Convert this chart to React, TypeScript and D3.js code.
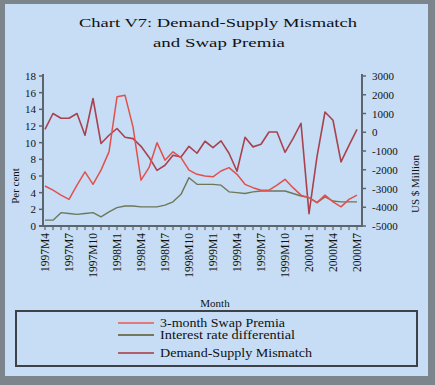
import React from 'react'
import * as d3 from 'd3'

// monthly categories, 1997M4 .. 2000M7
const months = [
  '1997M4', '1997M5', '1997M6', '1997M7', '1997M8', '1997M9', '1997M10', '1997M11', '1997M12',
  '1998M1', '1998M2', '1998M3', '1998M4', '1998M5', '1998M6', '1998M7', '1998M8', '1998M9',
  '1998M10', '1998M11', '1998M12', '1999M1', '1999M2', '1999M3', '1999M4', '1999M5', '1999M6',
  '1999M7', '1999M8', '1999M9', '1999M10', '1999M11', '1999M12', '2000M1', '2000M2', '2000M3',
  '2000M4', '2000M5', '2000M6', '2000M7',
]
const tickMonths = [
  '1997M4', '1997M7', '1997M10', '1998M1', '1998M4', '1998M7', '1998M10',
  '1999M1', '1999M4', '1999M7', '1999M10', '2000M1', '2000M4', '2000M7',
]

// per cent (left axis)
const swapPremia = [
  4.8, 4.3, 3.7, 3.2, 4.9, 6.5, 5.0, 6.7, 8.9, 15.5,
  15.7, 11.9, 5.5, 7.0, 10.0, 7.9, 8.9, 8.2, 6.7, 6.2,
  6.0, 5.9, 6.6, 7.0, 6.2, 5.0, 4.6, 4.3, 4.3, 4.9,
  5.6, 4.6, 3.7, 3.4, 2.8, 3.7, 2.9, 2.3, 3.2, 3.7,
]
const interestDiff = [
  0.7, 0.7, 1.6, 1.5, 1.4, 1.5, 1.6, 1.1, 1.7, 2.2,
  2.4, 2.4, 2.3, 2.3, 2.3, 2.5, 2.9, 3.8, 5.8, 5.0,
  5.0, 5.0, 4.9, 4.1, 4.0, 3.9, 4.1, 4.2, 4.2, 4.2,
  4.2, 3.9, 3.6, 3.4, 2.8, 3.5, 3.0, 2.9, 2.9, 2.9,
]
// US $ million (right axis)
const mismatch = [
  150, 1000, 750, 750, 1000, -160, 1800, -600, -160, 200,
  -270, -340, -750, -1330, -2030, -1760, -1230, -1320, -750, -1120,
  -480, -820, -460, -1120, -2080, -270, -780, -640, 15, 15,
  -1070, -340, 480, -4340, -1300, 1080, 640, -1580, -700, 150,
]

const leftTicks = [0, 2, 4, 6, 8, 10, 12, 14, 16, 18]
const rightTicks = [3000, 2000, 1000, 0, -1000, -2000, -3000, -4000, -5000]

const legendItems = [
  { label: '3-month Swap Premia', color: '#e27a7a', len: 125 },
  { label: 'Interest rate differential', color: '#74795a', len: 135 },
  { label: 'Demand-Supply Mismatch', color: '#b0606c', len: 152 },
]

export default function App() {
  const W = 435, H = 385
  const left = 43, right = 362, top = 76, bottom = 226
  const font = '"Liberation Serif", "DejaVu Serif", serif'

  const x = d3.scalePoint<string>().domain(months).range([45, 357])
  const yL = d3.scaleLinear().domain([0, 18]).range([bottom, top])
  const yR = d3.scaleLinear().domain([-5000, 3000]).range([bottom, top])

  const lineL = d3.line<number>().x((d, i) => x(months[i])!).y(d => yL(d))
  const lineR = d3.line<number>().x((d, i) => x(months[i])!).y(d => yR(d))

  const axisColor = '#5c646c'

  return (
    <div style={{ position: 'absolute', left: 0, top: 0 }}>
      <svg width={W} height={H} viewBox={`0 0 ${W} ${H}`} style={{ display: 'block', fontFamily: font }}>
        {/* frame */}
        <rect x={0} y={0} width={W} height={H} fill="#7d858c" />
        <rect x={5} y={4} width={423} height={372} fill="#c6ddf5" />

        {/* title */}
        <text x={218} y={27} textAnchor="middle" fontSize={13.5} fill="#111"
          textLength={278} lengthAdjust="spacingAndGlyphs">Chart V7: Demand-Supply Mismatch</text>
        <text x={219} y={47} textAnchor="middle" fontSize={13.5} fill="#111"
          textLength={132} lengthAdjust="spacingAndGlyphs">and Swap Premia</text>

        {/* lines */}
        <path d={lineR(mismatch)!} fill="none" stroke="#a8424e" strokeWidth={1.6} strokeLinejoin="round" />
        <path d={lineL(interestDiff)!} fill="none" stroke="#6c7858" strokeWidth={1.4} strokeLinejoin="round" />
        <path d={lineL(swapPremia)!} fill="none" stroke="#e2504c" strokeWidth={1.5} strokeLinejoin="round" />

        {/* axes */}
        <line x1={left} x2={left} y1={top - 2} y2={bottom} stroke={axisColor} strokeWidth={2} />
        <line x1={right} x2={right} y1={top - 2} y2={bottom} stroke={axisColor} strokeWidth={2} />
        <line x1={left - 4} x2={right + 1} y1={bottom} y2={bottom} stroke={axisColor} strokeWidth={2} />

        {leftTicks.map(t => (
          <g key={'l' + t}>
            <line x1={left - 4} x2={left} y1={yL(t)} y2={yL(t)} stroke={axisColor} strokeWidth={1.5} />
            <text x={left - 7} y={yL(t) + 4} textAnchor="end" fontSize={11} fill="#111">{t}</text>
          </g>
        ))}
        {rightTicks.map(t => (
          <g key={'r' + t}>
            <line x1={right} x2={right + 4} y1={yR(t)} y2={yR(t)} stroke={axisColor} strokeWidth={1.5} />
            <text x={right + 10} y={yR(t) + 4} textAnchor="start" fontSize={11} fill="#111">{t}</text>
          </g>
        ))}
        {months.map(m => (
          <line key={'t' + m} x1={x(m)} x2={x(m)} y1={bottom} y2={bottom + 4} stroke={axisColor} strokeWidth={1.2} />
        ))}
        {tickMonths.map(m => (
          <text key={'x' + m} transform={`translate(${x(m)! + 4},${bottom + 7}) rotate(-90)`}
            textAnchor="end" fontSize={11.5} fill="#111">{m}</text>
        ))}

        {/* axis titles */}
        <text transform={`translate(19,186) rotate(-90)`} textAnchor="middle" fontSize={11} fill="#111">Per cent</text>
        <text transform={`translate(419,184) rotate(-90)`} textAnchor="middle" fontSize={11} fill="#111">US $ Million</text>
        <text x={215} y={307} textAnchor="middle" fontSize={11} fill="#111">Month</text>

        {/* legend */}
        <rect x={16} y={311} width={401} height={55} fill="none" stroke="#3c4248" strokeWidth={2} />
        {legendItems.map((d, i) => {
          const yy = [323, 335, 353][i]
          return (
            <g key={d.label}>
              <line x1={118} x2={154} y1={yy} y2={yy} stroke={d.color} strokeWidth={2} />
              <text x={160} y={yy + 4} fontSize={11.5} fill="#111"
                textLength={d.len} lengthAdjust="spacingAndGlyphs">{d.label}</text>
            </g>
          )
        })}
      </svg>
    </div>
  )
}
